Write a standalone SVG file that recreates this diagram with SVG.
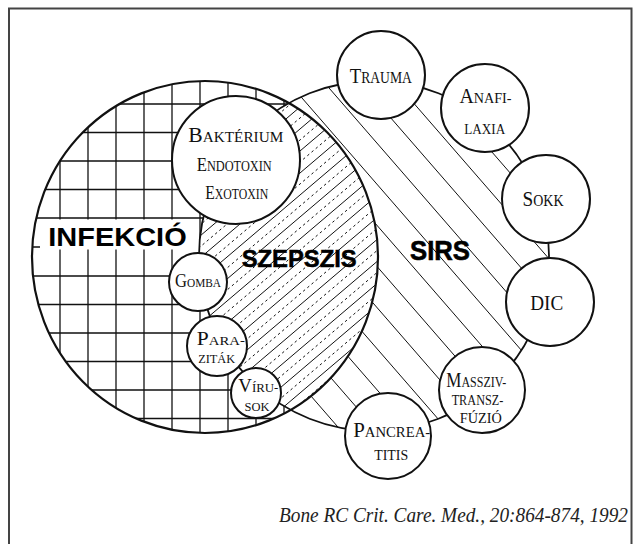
<svg xmlns="http://www.w3.org/2000/svg" width="640" height="544" viewBox="0 0 640 544">
<defs>
<style>
.hatch{stroke:#111;stroke-width:1;fill:none}
.dash{stroke-dasharray:2.5 3}
.grid{stroke:#111;stroke-width:1.3;fill:none}
.node{fill:#fff;stroke:#111;stroke-width:2}
.lbl{font-family:"Liberation Serif","DejaVu Serif",serif;fill:#111;text-anchor:middle}
.big{font-family:"Liberation Sans",Arial,sans-serif;font-weight:bold;fill:#000}
</style>
<clipPath id="infClip"><ellipse cx="205" cy="257" rx="173" ry="176"/></clipPath>
<clipPath id="sirsClip"><circle cx="374" cy="256" r="175"/></clipPath>
<clipPath id="xorClip"><path clip-rule="evenodd" d="M32,257a173,176 0 1,0 346,0a173,176 0 1,0 -346,0ZM199,256a175,175 0 1,0 350,0a175,175 0 1,0 -350,0Z"/></clipPath>
</defs>
<rect width="640" height="544" fill="#fff"/>
<!-- frame -->
<path d="M9,560V8.5H631.5V560" fill="none" stroke="#444" stroke-width="2"/>

<!-- infection-only area: grid -->
<g clip-path="url(#infClip)"><g clip-path="url(#xorClip)">
<path class="grid" d="M60,70V450M88,70V450M116,70V450M144,70V450M172,70V450M200,70V450M228,70V450M256,70V450M284,70V450"/>
<path class="grid" d="M20,104H400M20,132.5H400M20,161H400M20,189.5H400M20,218H400M20,247H400M20,276H400M20,304.5H400M20,333H400M20,361.5H400M20,390H400M20,418.5H400"/>
</g></g>
<rect x="40" y="219.5" width="159" height="30" fill="#fff"/>

<!-- overlap area: solid and dashed hatch -->
<g clip-path="url(#infClip)"><g clip-path="url(#sirsClip)">
<path class="hatch" d="M190,178.5l200,-170M190,200.5l200,-170M190,222.5l200,-170M190,244.5l200,-170M190,266.5l200,-170M190,288.5l200,-170M190,310.5l200,-170M190,332.5l200,-170M190,354.5l200,-170M190,376.5l200,-170M190,398.5l200,-170M190,420.5l200,-170M190,442.5l200,-170M190,464.5l200,-170M190,486.5l200,-170M190,508.5l200,-170"/>
<path class="hatch dash" d="M190,189.5l200,-170M190,211.5l200,-170M190,233.5l200,-170M190,255.5l200,-170M190,277.5l200,-170M190,299.5l200,-170M190,321.5l200,-170M190,343.5l200,-170M190,365.5l200,-170M190,387.5l200,-170M190,409.5l200,-170M190,431.5l200,-170M190,453.5l200,-170M190,475.5l200,-170M190,497.5l200,-170"/>
</g></g>

<!-- SIRS-only area: wide diagonal hatch -->
<g clip-path="url(#sirsClip)"><g clip-path="url(#xorClip)">
<path class="hatch" d="M190,-236.3l370,425.5M190,-195.2l370,425.5M190,-154.1l370,425.5M190,-113l370,425.5M190,-71.9l370,425.5M190,-30.8l370,425.5M190,10.3l370,425.5M190,51.4l370,425.5M190,92.5l370,425.5M190,133.6l370,425.5M190,174.7l370,425.5M190,215.8l370,425.5M190,256.9l370,425.5M190,298l370,425.5M190,339.1l370,425.5"/>
</g></g>

<!-- region outlines -->
<g id="regions">
<ellipse cx="205" cy="257" rx="173" ry="176" fill="none" stroke="#111" stroke-width="2.2"/>
</g>
<g id="connectors">
<circle cx="374" cy="256" r="175" fill="none" stroke="#111" stroke-width="1.8"/>
</g>

<!-- region labels -->
<text class="big" x="48.3" y="245.7" font-size="26.5" textLength="138.4" lengthAdjust="spacingAndGlyphs">INFEKCIÓ</text>
<text class="big" x="241.7" y="267" font-size="24" stroke="#000" stroke-width="0.5" textLength="115" lengthAdjust="spacingAndGlyphs">SZEPSZIS</text>
<text class="big" x="410" y="260" font-size="28" stroke="#000" stroke-width="0.6" textLength="60" lengthAdjust="spacingAndGlyphs">SIRS</text>

<!-- nodes -->
<g id="bakterium">
<circle class="node" cx="236" cy="160" r="64"/>
<text class="lbl" x="235.8" y="141.7" textLength="95" lengthAdjust="spacingAndGlyphs"><tspan font-size="22">B</tspan><tspan font-size="15.5">AKTÉRIUM</tspan></text>
<text class="lbl" x="234.2" y="171" textLength="75" lengthAdjust="spacingAndGlyphs"><tspan font-size="19">E</tspan><tspan font-size="14">NDOTOXIN</tspan></text>
<text class="lbl" x="236.7" y="199" textLength="63" lengthAdjust="spacingAndGlyphs"><tspan font-size="18.5">E</tspan><tspan font-size="14">XOTOXIN</tspan></text>
</g>
<g id="gomba">
<circle class="node" cx="198" cy="282" r="29"/>
<text class="lbl" x="198" y="286.7" textLength="46" lengthAdjust="spacingAndGlyphs"><tspan font-size="19">G</tspan><tspan font-size="13">OMBA</tspan></text>
</g>
<g id="parazitak">
<circle class="node" cx="217" cy="346" r="30"/>
<text class="lbl" x="220.8" y="345" textLength="48" lengthAdjust="spacingAndGlyphs"><tspan font-size="19">P</tspan><tspan font-size="13">ARA-</tspan></text>
<text class="lbl" x="216.7" y="362.7" font-size="13" textLength="37" lengthAdjust="spacingAndGlyphs">ZITÁK</text>
</g>
<g id="virusok">
<circle class="node" cx="256" cy="393" r="25"/>
<text class="lbl" x="258.3" y="391.7" textLength="40" lengthAdjust="spacingAndGlyphs"><tspan font-size="19">V</tspan><tspan font-size="13">ÍRU-</tspan></text>
<text class="lbl" x="257" y="411" font-size="13" textLength="25" lengthAdjust="spacingAndGlyphs">SOK</text>
</g>
<g id="trauma">
<circle class="node" cx="381" cy="75" r="44"/>
<text class="lbl" x="380.8" y="83.3" textLength="62" lengthAdjust="spacingAndGlyphs"><tspan font-size="22">T</tspan><tspan font-size="16">RAUMA</tspan></text>
</g>
<g id="anafilaxia">
<circle class="node" cx="485" cy="108" r="44"/>
<text class="lbl" x="485.5" y="103.3" textLength="52" lengthAdjust="spacingAndGlyphs"><tspan font-size="21">A</tspan><tspan font-size="15">NAFI-</tspan></text>
<text class="lbl" x="484.7" y="134" font-size="15" textLength="41" lengthAdjust="spacingAndGlyphs">LAXIA</text>
</g>
<g id="sokk">
<circle class="node" cx="546" cy="199" r="44"/>
<text class="lbl" x="543" y="206" textLength="41" lengthAdjust="spacingAndGlyphs"><tspan font-size="22">S</tspan><tspan font-size="16">OKK</tspan></text>
</g>
<g id="dic">
<circle class="node" cx="550" cy="302" r="44"/>
<text class="lbl" x="546.7" y="310" font-size="22" textLength="33" lengthAdjust="spacingAndGlyphs">DIC</text>
</g>
<g id="masszivtranszfuzio">
<circle class="node" cx="482" cy="390" r="43"/>
<text class="lbl" x="476.3" y="386.7" textLength="60" lengthAdjust="spacingAndGlyphs"><tspan font-size="22">M</tspan><tspan font-size="15.5">ASSZIV-</tspan></text>
<text class="lbl" x="477.5" y="404.5" font-size="14" textLength="51.7" lengthAdjust="spacingAndGlyphs">TRANSZ-</text>
<text class="lbl" x="480.8" y="423.3" font-size="14" textLength="42" lengthAdjust="spacingAndGlyphs">FÚZIÓ</text>
</g>
<g id="pancreatitis">
<circle class="node" cx="388" cy="436" r="43"/>
<text class="lbl" x="391.7" y="436.7" textLength="77" lengthAdjust="spacingAndGlyphs"><tspan font-size="22">P</tspan><tspan font-size="15.5">ANCREA-</tspan></text>
<text class="lbl" x="391.2" y="460" font-size="14.5" textLength="34" lengthAdjust="spacingAndGlyphs">TITIS</text>
</g>

<!-- source -->
<text x="279" y="521.7" font-family="Liberation Serif, DejaVu Serif, serif" font-style="italic" font-size="20" fill="#222" textLength="349" lengthAdjust="spacingAndGlyphs">Bone RC Crit. Care. Med., 20:864-874, 1992</text>
</svg>
